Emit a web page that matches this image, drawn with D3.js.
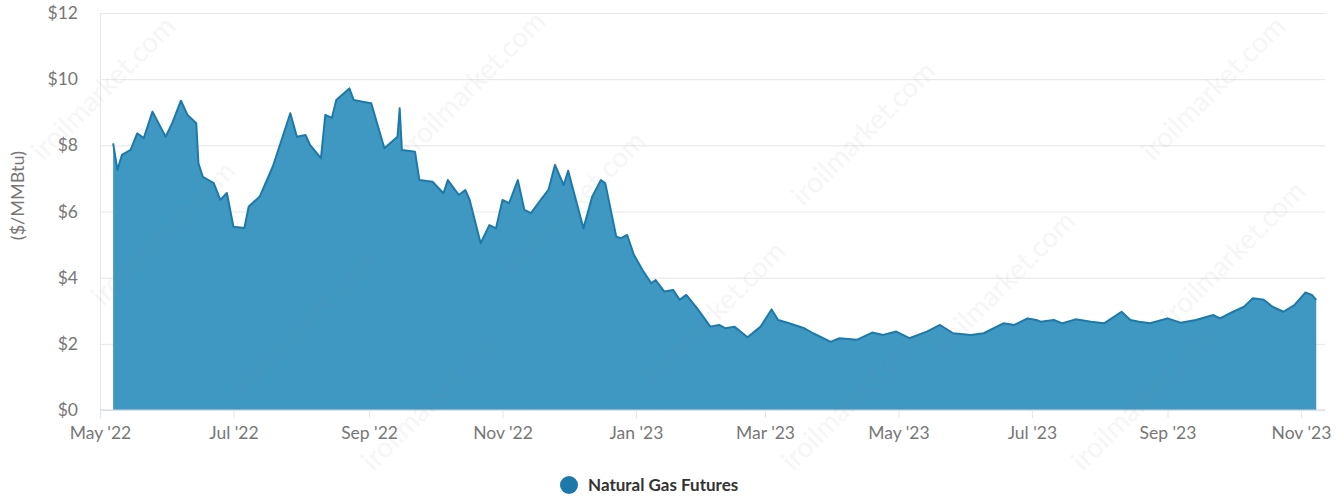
<!DOCTYPE html>
<html>
<head>
<meta charset="utf-8">
<script src="https://cdn.jsdelivr.net/npm/d3@7"></script>
<style>
  body { margin: 0; background: #fff; }
  svg { display: block; font-family: Lato, "Open Sans", sans-serif; }
</style>
</head>
<body>
<div id="chart"></div>
<script>
// Natural gas futures, $/MMBtu
var dates = ["2022-05-07","2022-05-09","2022-05-11","2022-05-15","2022-05-18","2022-05-21","2022-05-25","2022-05-31",
  "2022-06-03","2022-06-07","2022-06-10","2022-06-14","2022-06-15","2022-06-17","2022-06-22","2022-06-25","2022-06-28",
  "2022-07-01","2022-07-06","2022-07-08","2022-07-13","2022-07-19","2022-07-27","2022-07-30","2022-08-03","2022-08-05",
  "2022-08-10","2022-08-12","2022-08-15","2022-08-17","2022-08-23","2022-08-25","2022-08-29","2022-09-02","2022-09-08",
  "2022-09-14","2022-09-15","2022-09-16","2022-09-22","2022-09-24","2022-09-30","2022-10-05","2022-10-07","2022-10-12",
  "2022-10-15","2022-10-17","2022-10-22","2022-10-26","2022-10-29","2022-11-01","2022-11-04","2022-11-08","2022-11-11",
  "2022-11-14","2022-11-19","2022-11-22","2022-11-25","2022-11-27","2022-11-29","2022-12-01","2022-12-08","2022-12-12",
  "2022-12-16","2022-12-18","2022-12-23","2022-12-25","2022-12-28","2022-12-31","2023-01-04","2023-01-08","2023-01-10",
  "2023-01-14","2023-01-18","2023-01-21","2023-01-24","2023-01-29","2023-02-04","2023-02-08","2023-02-11","2023-02-15",
  "2023-02-21","2023-02-27","2023-03-04","2023-03-07","2023-03-12","2023-03-19","2023-03-23","2023-03-31","2023-04-04",
  "2023-04-12","2023-04-19","2023-04-24","2023-04-30","2023-05-06","2023-05-14","2023-05-20","2023-05-26","2023-06-03",
  "2023-06-09","2023-06-18","2023-06-23","2023-06-29","2023-07-03","2023-07-05","2023-07-11","2023-07-15","2023-07-21",
  "2023-07-28","2023-08-03","2023-08-11","2023-08-15","2023-08-19","2023-08-24","2023-09-01","2023-09-07","2023-09-14",
  "2023-09-22","2023-09-25","2023-10-01","2023-10-06","2023-10-10","2023-10-15","2023-10-19","2023-10-24","2023-10-29",
  "2023-11-03","2023-11-06","2023-11-08"];
var prices = [8.06,7.26,7.71,7.86,8.36,8.22,9.02,8.26,
  8.67,9.35,8.92,8.67,7.46,7.05,6.86,6.35,6.56,
  5.54,5.50,6.15,6.45,7.36,8.97,8.26,8.31,8.01,
  7.61,8.92,8.83,9.37,9.72,9.37,9.32,9.27,7.91,
  8.26,9.12,7.86,7.81,6.95,6.90,6.55,6.95,6.50,
  6.65,6.35,5.04,5.59,5.49,6.35,6.25,6.95,6.05,
  5.95,6.40,6.65,7.41,7.10,6.80,7.23,5.49,6.45,
  6.95,6.85,5.24,5.19,5.29,4.70,4.23,3.83,3.93,
  3.58,3.63,3.33,3.48,3.07,2.52,2.57,2.47,2.52,
  2.20,2.52,3.04,2.72,2.62,2.47,2.32,2.06,2.17,
  2.12,2.34,2.27,2.37,2.17,2.37,2.57,2.32,2.27,
  2.32,2.62,2.57,2.77,2.72,2.67,2.72,2.62,2.74,
  2.67,2.62,2.97,2.72,2.67,2.62,2.77,2.64,2.72,
  2.87,2.77,2.97,3.12,3.38,3.33,3.12,2.97,3.17,
  3.55,3.48,3.33];
var yTicks = [0, 2, 4, 6, 8, 10, 12];
var xTickLabels = ["May '22","Jul '22","Sep '22","Nov '22","Jan '23","Mar '23","May '23","Jul '23","Sep '23","Nov '23"];
var seriesName = "Natural Gas Futures";
var yTitle = "($/MMBtu)";

var W = 1344, H = 501;
var plotL = 100, plotR = 1325, plotT = 13, plotB = 410;
var parse = d3.timeParse("%Y-%m-%d");
var data = dates.map(function(d, i) { return { date: parse(d), value: prices[i] }; });

var x = d3.scaleTime()
  .domain([new Date(2022, 4, 1), new Date(2023, 10, 12)])
  .range([plotL, plotR]);
var y = d3.scaleLinear().domain([0, 12]).range([plotB, plotT]);

var svg = d3.select("#chart").append("svg")
  .attr("width", W)
  .attr("height", H);

// gridlines
svg.append("g")
  .attr("transform", "translate(" + plotL + ",0)")
  .call(d3.axisLeft(y).tickValues(yTicks).tickSize(-(plotR - plotL)).tickFormat(""))
  .call(function(g) {
    g.select(".domain").remove();
    g.selectAll("line").attr("stroke", "#e6e6e6");
  });

// y labels
svg.append("g")
  .attr("transform", "translate(" + plotL + ",0)")
  .call(d3.axisLeft(y).tickValues(yTicks).tickSize(0).tickPadding(22).tickFormat(function(d) { return "$" + d; }))
  .call(function(g) {
    g.attr("font-family", null);
    g.select(".domain").attr("stroke", "#e6e6e6");
    g.selectAll("text").attr("fill", "#777").style("font-size", "17.5px");
  });

// area
var area = d3.area()
  .x(function(d) { return x(d.date); })
  .y0(y(0))
  .y1(function(d) { return y(d.value); });
var line = d3.line()
  .x(function(d) { return x(d.date); })
  .y(function(d) { return y(d.value); });

svg.append("path").datum(data)
  .attr("d", area)
  .attr("fill", "#3e98c2");
svg.append("path").datum(data)
  .attr("d", line)
  .attr("fill", "none")
  .attr("stroke", "#1c79aa")
  .attr("stroke-width", 2)
  .attr("stroke-linejoin", "round");

// x axis
var xTicks = xTickLabels.map(function(t, i) { return new Date(2022, 4 + 2 * i, 1); });
svg.append("g")
  .attr("transform", "translate(0," + plotB + ")")
  .call(d3.axisBottom(x).tickValues(xTicks).tickSize(8).tickPadding(9)
    .tickFormat(function(d, i) { return xTickLabels[i]; }))
  .call(function(g) {
    g.attr("font-family", null);
    g.select(".domain").attr("stroke", "#ccd6eb").attr("d", "M" + plotL + ",0H" + plotR);
    g.selectAll("line").attr("stroke", "#e6e6e6");
    g.selectAll("text").attr("fill", "#777").style("font-size", "17.5px");
  });

// y title
svg.append("text")
  .attr("transform", "translate(24," + ((plotT + plotB) / 2 - 16) + ") rotate(-90)")
  .attr("text-anchor", "middle")
  .attr("fill", "#777")
  .style("font-size", "18px")
  .text(yTitle);

// legend
var lg = svg.append("g").attr("transform", "translate(569,485)");
lg.append("circle").attr("r", 9).attr("fill", "#1c79aa");
lg.append("text")
  .attr("x", 19).attr("y", 6)
  .attr("fill", "#333")
  .style("font-size", "17px")
  .style("font-weight", 700)
  .text(seriesName);

// watermark
var wmPos = [[110, 95], [480, 90], [1220, 95], [170, 240], [580, 210], [870, 140], [1240, 260],
             [310, 330], [720, 320], [1010, 290], [1150, 405], [440, 405], [860, 405]];
wmPos.forEach(function(p) {
  svg.append("text")
    .attr("transform", "translate(" + p[0] + "," + p[1] + ") rotate(-45)")
    .attr("text-anchor", "middle")
    .attr("fill", "#888")
    .attr("opacity", 0.07)
    .style("font-size", "28px")
    .text("iroilmarket.com");
});
</script>
</body>
</html>
